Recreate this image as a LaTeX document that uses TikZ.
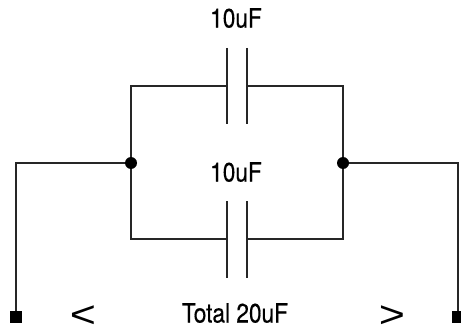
\documentclass[tikz,border=0pt]{standalone}
\usepackage{fontspec}
\setmainfont[FakeStretch=0.85,FakeBold=0.4]{TeX Gyre Heros}
\newfontfamily\chevfont[FakeStretch=1.2]{Liberation Sans}
\tikzset{
  wire/.style={line width=1.5pt,black!85},
  junction/.style={draw=none,circle,fill=black,inner sep=0pt,minimum size=9pt},
  terminal/.style={draw=none,rectangle,fill=black,inner sep=0pt,minimum size=9pt},
  capvalue/.style={inner sep=0pt,font=\fontsize{20}{20}\selectfont},
  chevron/.style={inner sep=0pt,font=\chevfont\fontsize{28}{28}\selectfont}
}
\begin{document}
\begin{tikzpicture}[x=0.75pt,y=-0.75pt]
  \useasboundingbox (0,0) rectangle (461,328);
  % junctions and terminals
  \node[junction] (jleft) at (131,163) {};
  \node[junction] (jright) at (343,163) {};
  \node[terminal] (tleft) at (16,317) {};
  \node[terminal] (tright) at (458,317) {};
  % top capacitor
  \coordinate (topa) at (227,86);
  \coordinate (topb) at (247,86);
  \draw[wire] (jleft) |- (topa);
  \draw[wire] (jright) |- (topb);
  \draw[wire] (227,48) -- (227,124);
  \draw[wire] (247,48) -- (247,124);
  % bottom capacitor
  \coordinate (bota) at (227,239);
  \coordinate (botb) at (247,239);
  \draw[wire] (jleft) |- (bota);
  \draw[wire] (jright) |- (botb);
  \draw[wire] (227,201) -- (227,278);
  \draw[wire] (247,201) -- (247,278);
  % leads
  \draw[wire] (jleft) -| (tleft);
  \draw[wire] (jright) -| (tright);
  % labels
  \node[capvalue] (toplabel) at (236,18) {10uF};
  \node[capvalue] (midlabel) at (236,172) {10uF};
  \node[capvalue] (total) at (235,313) {Total 20uF};
  \node[chevron] (less) at (83,317) {<};
  \node[chevron] (greater) at (392,317) {>};
\end{tikzpicture}
\end{document}
